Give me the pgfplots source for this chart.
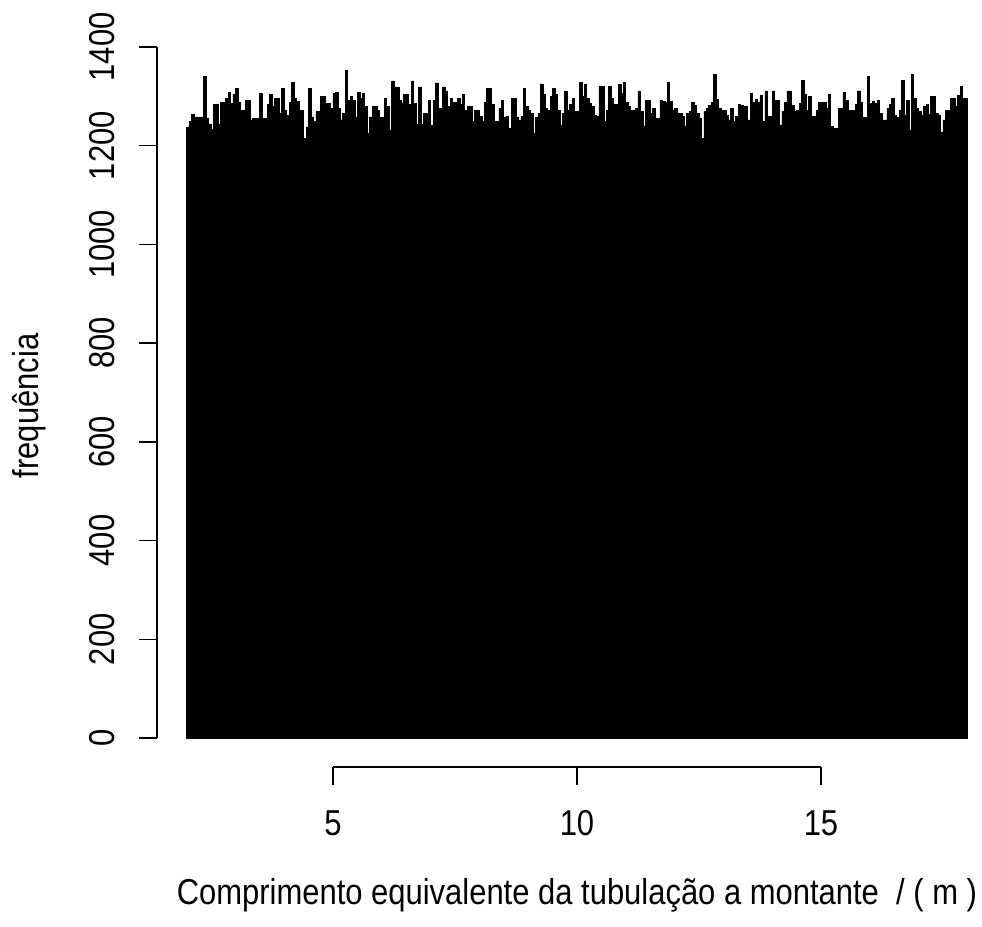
\documentclass[border=0pt]{standalone}
\usepackage{pgfplots}
\pgfplotsset{compat=1.18}
\usepackage{pgfplotstable}
\usepackage{fontspec}
\setmainfont{Liberation Sans}[FakeStretch=0.86]

\pgfplotstableread{
y
1238
1249
1263
1258
1258
1258
1258
1341
1256
1244
1234
1284
1284
1243
1287
1287
1296
1308
1286
1304
1316
1287
1272
1272
1292
1292
1252
1255
1255
1255
1305
1255
1255
1284
1304
1279
1296
1296
1266
1316
1272
1262
1288
1328
1296
1290
1272
1272
1214
1238
1316
1258
1249
1269
1269
1299
1300
1286
1286
1276
1306
1308
1276
1252
1266
1353
1292
1300
1292
1258
1308
1296
1306
1279
1225
1258
1279
1279
1272
1257
1257
1296
1279
1232
1331
1319
1319
1292
1286
1304
1304
1283
1331
1286
1243
1319
1244
1266
1266
1291
1241
1291
1327
1276
1276
1319
1311
1279
1296
1287
1287
1296
1284
1304
1272
1279
1279
1249
1271
1271
1260
1250
1287
1316
1316
1284
1249
1249
1276
1291
1257
1259
1236
1296
1296
1257
1252
1260
1316
1279
1271
1266
1225
1257
1266
1325
1304
1276
1271
1299
1316
1304
1271
1242
1266
1311
1272
1284
1296
1269
1269
1328
1300
1325
1296
1286
1279
1262
1259
1320
1320
1249
1272
1320
1296
1284
1284
1324
1306
1328
1287
1279
1272
1272
1276
1311
1269
1240
1291
1291
1266
1276
1255
1255
1291
1290
1287
1328
1290
1272
1276
1266
1266
1260
1240
1266
1269
1287
1282
1266
1255
1215
1269
1276
1282
1287
1345
1293
1276
1272
1272
1262
1251
1276
1249
1259
1284
1282
1279
1279
1252
1305
1287
1293
1287
1301
1249
1311
1260
1260
1311
1291
1291
1242
1269
1287
1311
1311
1282
1269
1271
1286
1332
1304
1272
1299
1259
1259
1272
1287
1287
1287
1276
1304
1239
1235
1235
1276
1276
1308
1291
1271
1272
1272
1284
1311
1287
1257
1257
1341
1286
1290
1286
1291
1266
1252
1252
1276
1284
1296
1262
1257
1272
1332
1262
1291
1232
1345
1296
1276
1269
1262
1279
1284
1263
1299
1299
1266
1262
1228
1252
1272
1272
1296
1296
1280
1301
1320
1296
1296
1296
}\histdata

\begin{document}
\begin{tikzpicture}
\begin{axis}[
  scale only axis,
  width=825pt, height=730pt,
  xmin=1.393, xmax=18.30,
  ymin=-58.75, ymax=1420,
  axis x line*=bottom, axis y line*=left,
  axis line style={draw=none},
  xtick={5,10,15},
  ytick={0,200,400,600,800,1000,1200,1400},
  minor tick num=0,
  tick align=outside,
  major tick length=18pt,
  tick style={black, line width=1.6pt},
  scaled ticks=false,
  /pgf/number format/assume math mode=true,
  /pgf/number format/1000 sep={},
  ticklabel style={font=\fontsize{36}{43}\selectfont, inner sep=0pt},
  xticklabel style={anchor=north},
  yticklabel style={rotate=90, anchor=south},
  xticklabel shift=25pt,
  yticklabel shift=24pt,
  clip=false,
]
\addplot[const plot, fill=black, draw=black, line width=0.6pt]
  table[x expr={2+0.05*\coordindex}, y=y] {\histdata} \closedcycle;

\draw[line width=1.6pt] (axis cs:5,-58.75) -- (axis cs:15,-58.75);
\draw[line width=1.6pt] (axis cs:1.393,0) -- (axis cs:1.393,1400);

\node[rotate=90, anchor=base, font=\fontsize{36}{43}\selectfont]
  at (axis cs:-1.045,672.6) {frequência};
\node[anchor=base, font=\fontsize{36}{43}\selectfont]
  at (axis cs:10,-336.3) {Comprimento equivalente da tubulação a montante\ \ / ( m )};

\coordinate (bbl) at (axis cs:-1.824,-381.6);
\coordinate (btr) at (axis cs:18.30,1495);
\end{axis}
\pgfresetboundingbox
\useasboundingbox (bbl) rectangle (btr);
\end{tikzpicture}
\end{document}
